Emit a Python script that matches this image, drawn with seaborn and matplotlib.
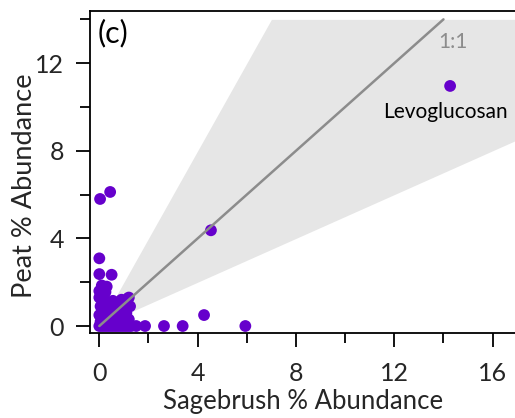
import matplotlib
matplotlib.use("Agg")
import matplotlib.pyplot as plt
from matplotlib.ticker import MultipleLocator
import seaborn as sns
import numpy as np
import pandas as pd

# ---- data (percent abundance) ----
sage = [0.0, 0.1, 0.2, 0.3, 0.4, 0.5, 0.6, 0.7, 0.8, 0.9, 1.0, 1.1, 1.2, 1.3,
        0.05, 0.3, 0.6, 0.9, 1.2, 0.45, 1.05,
        0.0, 0.2, 0.5, 0.8, 1.1, 0.35, 0.95,
        0.05, 0.3, 0.7, 1.0, 1.25, 0.55,
        0.0, 0.2, 0.55, 0.9, 1.15,
        0.0, 0.25, 0.1, 0.3,
        0.5, 0.85, 1.2,
        1.5, 1.86, 2.63, 3.39, 5.94, 4.26,
        0.0, 0.5, 0.0,
        0.03, 0.44,
        4.54, 14.27]
peat = [0.0, 0.0, 0.0, 0.0, 0.0, 0.0, 0.0, 0.0, 0.0, 0.0, 0.0, 0.0, 0.0, 0.0,
        0.2, 0.25, 0.15, 0.2, 0.3, 0.1, 0.35,
        0.5, 0.6, 0.45, 0.5, 0.6, 0.7, 0.3,
        0.9, 0.85, 0.9, 0.8, 0.9, 0.65,
        1.3, 1.2, 1.15, 1.2, 1.25,
        1.6, 1.55, 1.85, 1.8,
        1.1, 1.05, 1.3,
        0.0, 0.0, 0.0, 0.0, 0.0, 0.5,
        3.09, 2.34, 2.37,
        5.8, 6.12,
        4.37, 10.96]
df = pd.DataFrame({"Sagebrush": sage, "Peat": peat})

wedge_x = [0.0, 7.0, 17.0]
one_to_one = [0.0, 14.0]

sns.set_style("ticks")
plt.rcParams["font.family"] = ["Lato", "DejaVu Sans"]

fig = plt.figure(figsize=(5.15, 4.18), dpi=100)
ax = fig.add_axes([0.1757, 0.2033, 0.8243, 0.7703])

# factor-of-two band around the 1:1 line
wx = np.array(wedge_x)
ax.fill_between(wx, 0.5 * wx, np.minimum(2 * wx, 14), color="#e6e6e6", lw=0, zorder=0)

sns.scatterplot(data=df, x="Sagebrush", y="Peat", ax=ax, s=72, color="#6600cc",
                edgecolor="none", zorder=2)
ax.plot(one_to_one, one_to_one, color="#8c8c8c", lw=1.8, zorder=3)

ax.text(14.38, 12.98, "1:1", color="#8c8c8c", fontsize=15, ha="center", va="center")
ax.text(14.1, 9.75, "Levoglucosan", color="black", fontsize=15, ha="center", va="center")
ax.text(-0.05, 13.35, "(c)", color="black", fontsize=22, ha="left", va="center")

ax.set_xlim(-0.36, 16.91)
ax.set_ylim(-0.32, 14.38)
ax.xaxis.set_major_locator(MultipleLocator(4))
ax.xaxis.set_minor_locator(MultipleLocator(2))
ax.yaxis.set_major_locator(MultipleLocator(4))
ax.yaxis.set_minor_locator(MultipleLocator(2))
ax.tick_params(which="major", direction="out", length=10, width=1.3, color="black",
               labelsize=18, pad=9)
ax.tick_params(axis="x", which="major", pad=11)
ax.tick_params(which="minor", direction="out", length=7.5, width=1.3, color="black")
ax.spines["right"].set_visible(False)
for s in ["left", "bottom", "top"]:
    ax.spines[s].set_linewidth(1.3)
    ax.spines[s].set_color("black")

ax.set_xlabel("Sagebrush % Abundance", fontsize=18.5, labelpad=3)
ax.set_ylabel("Peat % Abundance", fontsize=19.5)
ax.yaxis.set_label_coords(-0.126, 0.456)

fig.savefig("out.png", dpi=100)
